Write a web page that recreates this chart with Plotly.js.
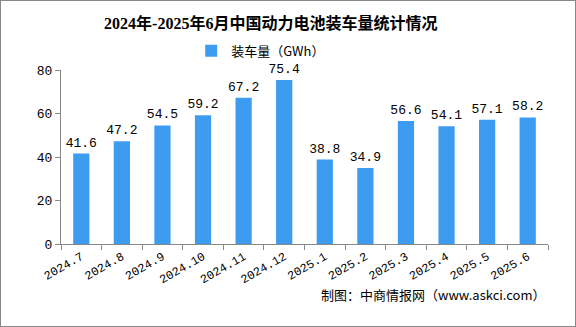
<!DOCTYPE html>
<html><head><meta charset="utf-8">
<script src="https://cdn.plot.ly/plotly-3.0.1.min.js"></script>
<style>
html,body{margin:0;padding:0;background:#fff;}
#wrap{width:576px;height:327px;box-sizing:border-box;border:1px solid #888;}
#chart{width:574px;height:325px;}
</style></head>
<body><div id="wrap"><div id="chart"></div></div>
<script>
const categories = ["2024.7","2024.8","2024.9","2024.10","2024.11","2024.12","2025.1","2025.2","2025.3","2025.4","2025.5","2025.6"];
const values = [41.6,47.2,54.5,59.2,67.2,75.4,38.8,34.9,56.6,54.1,57.1,58.2];
const seriesName = "装车量（GWh）";
const titleText = "2024年-2025年6月中国动力电池装车量统计情况";
const sourceText = "制图：中商情报网（www.askci.com）";

const numFont = "'Liberation Mono', 'Noto Sans CJK SC', monospace";
const trace = {
  type: "bar",
  x: categories,
  y: values,
  name: seriesName,
  marker: {color: "#3e9cf0"},
  width: 0.4,
  text: values.map(v => v.toFixed(1)),
  textposition: "outside",
  constraintext: "none",
  cliponaxis: false,
  textfont: {family: numFont, size: 13, color: "#000"}
};
const layout = {
  width: 574, height: 325,
  margin: {l: 60, r: 27, t: 69, b: 82},
  paper_bgcolor: "#fff", plot_bgcolor: "#fff",
  title: {text: titleText, x: 0.47, xanchor: "center", y: 0.93, yanchor: "middle",
          font: {family: "'Liberation Serif', 'Noto Sans CJK SC', serif", size: 16, color: "#000", weight: "bold"}},
  showlegend: true,
  legend: {orientation: "h", x: 0.41, xanchor: "center", y: 1.11, yanchor: "middle",
           bgcolor: "rgba(0,0,0,0)", itemwidth: 30,
           font: {family: "'Noto Sans CJK SC', sans-serif", size: 13, color: "#000"}},
  bargap: 0.6,
  xaxis: {type: "category", tickson: "boundaries", ticks: "outside", ticklen: 5, tickcolor: "#888",
          showline: true, linecolor: "#888", linewidth: 1, tickangle: -30,
          tickfont: {family: numFont, size: 12, color: "#000"}, showgrid: false},
  yaxis: {range: [0, 80], dtick: 20, ticks: "outside", ticklen: 5, tickcolor: "#888",
          showline: true, linecolor: "#888", showgrid: false, zeroline: false,
          tickfont: {family: numFont, size: 13, color: "#000"}},
  annotations: [{text: sourceText, xref: "paper", yref: "paper", x: 1.0, y: -0.29,
                 xanchor: "right", yanchor: "middle", showarrow: false,
                 font: {family: "'Noto Sans CJK SC', sans-serif", size: 13, color: "#000"}}]
};
Plotly.newPlot("chart", [trace], layout, {displayModeBar: false, staticPlot: true});
</script></body></html>
